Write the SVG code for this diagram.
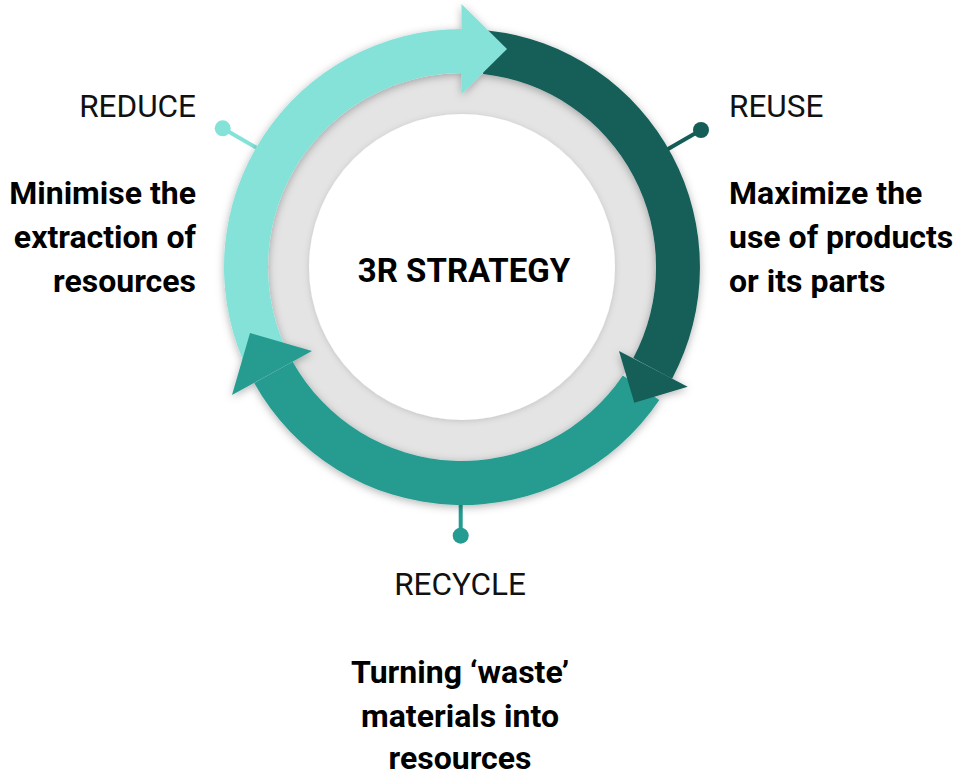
<svg xmlns="http://www.w3.org/2000/svg" width="957" height="775" viewBox="0 0 957 775">
  <defs>
    <filter id="shadow" x="-20%" y="-20%" width="140%" height="140%">
      <feDropShadow dx="0" dy="2" stdDeviation="4" flood-color="#000" flood-opacity="0.3"/>
    </filter>
    <filter id="shadowSoft" x="-20%" y="-20%" width="140%" height="140%">
      <feDropShadow dx="0" dy="1" stdDeviation="3" flood-color="#000" flood-opacity="0.15"/>
    </filter>
  </defs>
  <style>
    .lbl { font-family: Roboto, "Liberation Sans", sans-serif; font-size: 31.5px; fill: #111; }
    .desc { font-family: Roboto, "Liberation Sans", sans-serif; font-size: 32px; font-weight: bold; fill: #000; }
    .title { font-family: Roboto, "Liberation Sans", sans-serif; font-size: 33px; font-weight: bold; fill: #000; }
    .light { fill: #84E2D9; }
    .dark { fill: #155E58; }
    .teal { fill: #259C91; }
    .conn { stroke-width: 4; fill: none; }
  </style>
  <rect width="957" height="775" fill="#fff"/>

  <g id="connectors">
    <line class="conn" x1="222.7" y1="128.3" x2="262" y2="151" stroke="#84E2D9"/>
    <circle cx="222.7" cy="128.3" r="8" fill="#84E2D9"/>
    <line class="conn" x1="701" y1="130" x2="662" y2="152.5" stroke="#155E58"/>
    <circle cx="701" cy="130" r="8" fill="#155E58"/>
    <line class="conn" x1="460.7" y1="498" x2="460.7" y2="535.7" stroke="#259C91"/>
    <circle cx="460.7" cy="535.7" r="8" fill="#259C91"/>
  </g>

  <g id="core">
    <circle cx="462" cy="267" r="194" fill="#E4E4E4"/>
    <circle cx="462" cy="267" r="153" fill="#fff" filter="url(#shadowSoft)"/>
    <text class="title" x="464" y="282" text-anchor="middle">3R STRATEGY</text>
  </g>

  <g id="cycle" filter="url(#shadow)">
    <path class="light" d="M243.4,361.1 A238,238 0 0 1 462,29 L462,73 A194,194 0 0 0 283.8,343.7 Z"/>
    <path class="dark" d="M487.7,30.4 A238,238 0 0 1 672.1,378.7 L633.3,358.1 A194,194 0 0 0 483.0,74.1 Z"/>
    <path class="teal" d="M659.3,400.1 A238,238 0 0 1 254.2,383.1 L292.7,361.7 A194,194 0 0 0 622.8,375.5 Z"/>
    <polygon class="light" points="461.5,4 507,49 461.5,94"/>
    <polygon class="dark" points="619,351 687.7,386.7 634.3,402.7"/>
    <polygon class="teal" points="312,351 250,333 232,395"/>
  </g>

  <g id="reduce">
    <text class="lbl" x="196" y="117" text-anchor="end">REDUCE</text>
    <text class="desc" x="196" y="204" text-anchor="end">Minimise the</text>
    <text class="desc" x="196" y="248" text-anchor="end">extraction of</text>
    <text class="desc" x="196" y="292" text-anchor="end">resources</text>
  </g>

  <g id="reuse">
    <text class="lbl" x="729" y="117">REUSE</text>
    <text class="desc" x="729" y="204">Maximize the</text>
    <text class="desc" x="729" y="248">use of products</text>
    <text class="desc" x="729" y="292">or its parts</text>
  </g>

  <g id="recycle">
    <text class="lbl" x="460" y="595" text-anchor="middle">RECYCLE</text>
    <text class="desc" x="460" y="683" text-anchor="middle">Turning ‘waste’</text>
    <text class="desc" x="460" y="727" text-anchor="middle">materials into</text>
    <text class="desc" x="460" y="769" text-anchor="middle">resources</text>
  </g>
</svg>
